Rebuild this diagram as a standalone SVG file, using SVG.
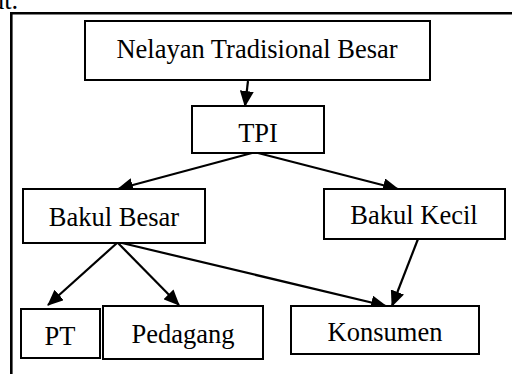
<svg xmlns="http://www.w3.org/2000/svg" width="512" height="374" viewBox="0 0 512 374">
<defs>
<style>
.box{fill:#fff;stroke:#000;stroke-width:2}
.lbl{font-family:"Liberation Serif","Times New Roman",serif;font-size:26.5px;fill:#000;text-anchor:middle}
.con{stroke:#000;stroke-width:2.2;fill:none;marker-end:url(#ah)}
</style>
<marker id="ah" markerWidth="16" markerHeight="14" refX="15" refY="7" orient="auto" markerUnits="userSpaceOnUse">
<path d="M0,0 L16,7 L0,14 Z" fill="#000"/>
</marker>
</defs>
<rect width="512" height="374" fill="#fff"/>
<text x="-9" y="9" class="lbl" style="text-anchor:start">ut.</text>
<g id="frame">
<line x1="11.3" y1="12" x2="11.3" y2="374" stroke="#000" stroke-width="2.6"/>
<line x1="10" y1="13.3" x2="512" y2="13.3" stroke="#000" stroke-width="2.6"/>
</g>
<g id="connectors">
<line class="con" x1="248" y1="81" x2="245" y2="106"/>
<line class="con" x1="252" y1="153" x2="118" y2="189"/>
<line class="con" x1="258" y1="153" x2="398" y2="189"/>
<line class="con" x1="117" y1="243" x2="48" y2="305"/>
<line class="con" x1="118" y1="243" x2="179" y2="305"/>
<line class="con" x1="122" y1="243" x2="386" y2="306"/>
<line class="con" x1="418" y1="239" x2="392" y2="306"/>
</g>
<g id="nelayan">
<rect class="box" x="85" y="21" width="345" height="59"/>
<text class="lbl" x="257" y="58">Nelayan Tradisional Besar</text>
</g>
<g id="tpi">
<rect class="box" x="192" y="106" width="132" height="47"/>
<text class="lbl" x="258" y="142">TPI</text>
</g>
<g id="bakul-besar">
<rect class="box" x="23" y="189" width="182" height="54"/>
<text class="lbl" x="114" y="226">Bakul Besar</text>
</g>
<g id="bakul-kecil">
<rect class="box" x="324" y="189" width="181" height="50"/>
<text class="lbl" x="414" y="224">Bakul Kecil</text>
</g>
<g id="pt">
<rect class="box" x="21" y="309" width="79" height="49"/>
<text class="lbl" x="60" y="345">PT</text>
</g>
<g id="pedagang">
<rect class="box" x="103" y="306" width="160" height="53"/>
<text class="lbl" x="183" y="343">Pedagang</text>
</g>
<g id="konsumen">
<rect class="box" x="291" y="306" width="188" height="48"/>
<text class="lbl" x="385" y="341">Konsumen</text>
</g>
</svg>
